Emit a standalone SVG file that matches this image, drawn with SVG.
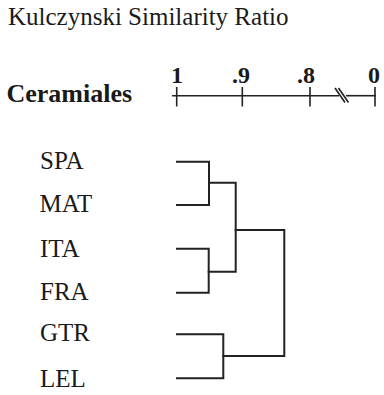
<svg xmlns="http://www.w3.org/2000/svg" width="384" height="395" viewBox="0 0 384 395">
<style>
.t{font-family:"Liberation Serif","Times New Roman",serif;fill:#1a1a1a}
.lbl{font-size:25px}
.b{font-weight:bold}
.ln{stroke:#222;stroke-width:2;fill:none;stroke-linecap:square}
.ax{stroke:#222;stroke-width:1.6;fill:none}
</style>
<rect width="384" height="395" fill="#fff"/>
<text class="t" x="8" y="25" font-size="25">Kulczynski Similarity Ratio</text>
<text class="t b" x="6.5" y="102" font-size="26">Ceramiales</text>
<g id="axis">
<line class="ax" x1="172" y1="95.7" x2="339" y2="95.7"/>
<line class="ax" x1="346" y1="95.7" x2="376" y2="95.7"/>
<line class="ax" x1="176.7" y1="87" x2="176.7" y2="106.5"/>
<line class="ax" x1="242.3" y1="87" x2="242.3" y2="106.5"/>
<line class="ax" x1="310" y1="87" x2="310" y2="106.5"/>
<line class="ax" x1="375" y1="87" x2="375" y2="106.5"/>
<line class="ax" x1="335" y1="88" x2="345" y2="102.5" stroke-width="1.2"/>
<line class="ax" x1="338.5" y1="88" x2="348.5" y2="102.5" stroke-width="1.2"/>
<g class="t b" font-size="24" text-anchor="middle">
<text x="177" y="82.5">1</text>
<text x="241" y="82.5">.9</text>
<text x="306" y="82.5">.8</text>
<text x="374" y="82.5">0</text>
</g>
</g>
<g id="SPA"><text class="t lbl" x="40" y="168.5">SPA</text></g>
<g id="MAT"><text class="t lbl" x="39.5" y="212">MAT</text></g>
<g id="ITA"><text class="t lbl" x="40" y="257">ITA</text></g>
<g id="FRA"><text class="t lbl" x="40" y="299.5">FRA</text></g>
<g id="GTR"><text class="t lbl" x="40" y="341">GTR</text></g>
<g id="LEL"><text class="t lbl" x="40" y="386.5">LEL</text></g>
<g id="connectors">
<polyline class="ln" points="177,161.7 209,161.7 209,205 177,205"/>
<polyline class="ln" points="177,248.7 208.7,248.7 208.7,292.7 177,292.7"/>
<polyline class="ln" points="209,182.7 235.7,182.7 235.7,271.7 208.7,271.7"/>
<polyline class="ln" points="177,334.3 223.3,334.3 223.3,378.3 177,378.3"/>
<polyline class="ln" points="235.7,230 284.3,230 284.3,356 223.3,356"/>
</g>
</svg>
